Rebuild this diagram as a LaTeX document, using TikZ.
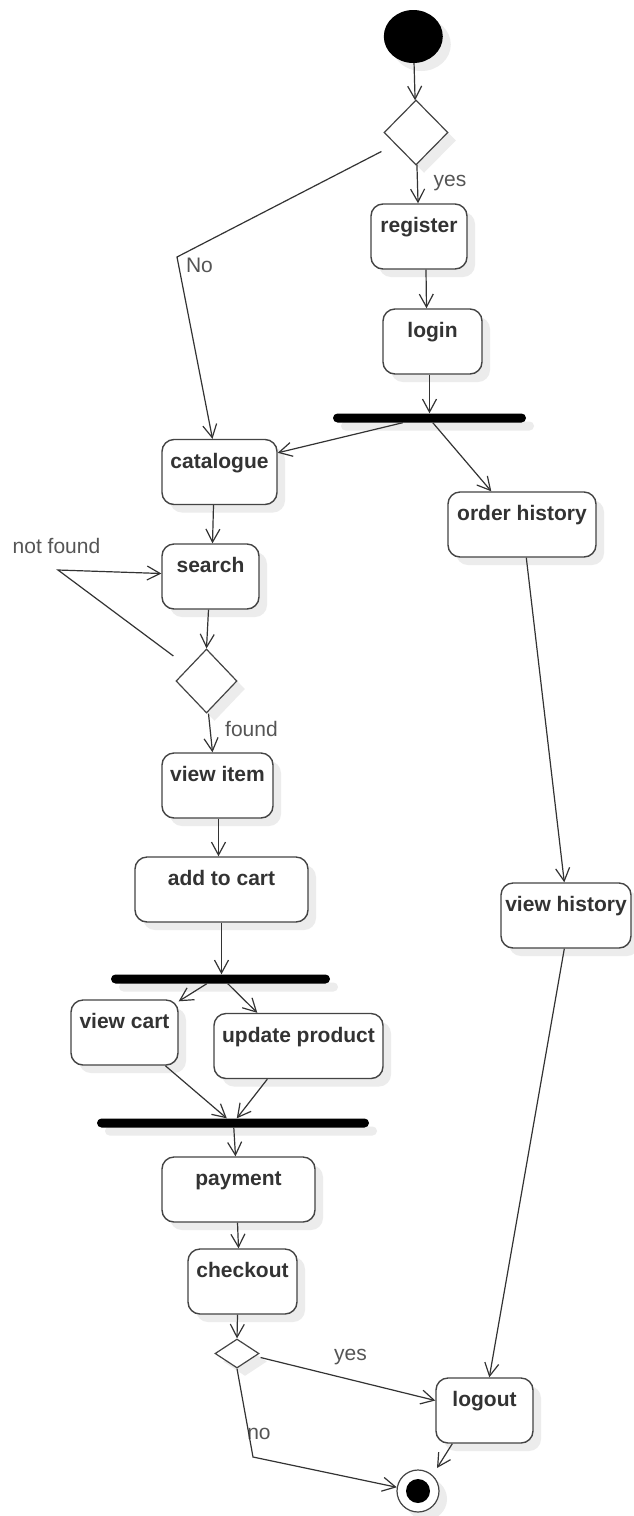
\documentclass[tikz,border=0pt]{standalone}
\usepackage{fontspec}
\setmainfont{Liberation Sans}
\usetikzlibrary{arrows.meta,shapes.geometric,shadows,calc}
\definecolor{ink}{HTML}{333333}
\definecolor{edge}{HTML}{444444}
\definecolor{guardtext}{HTML}{555555}
\definecolor{shade}{HTML}{ECECEC}

\tikzset{
  shadowed/.style={drop shadow={shadow xshift=8pt, shadow yshift=-8pt, fill=shade, opacity=1}},
  action/.style={shadowed, draw=edge, line width=1.4pt, fill=white, rounded corners=12pt,
    minimum width=#1, inner xsep=0pt, inner ysep=0pt, text height=28.5pt, text depth=36.5pt,
    font=\fontsize{21}{25}\selectfont\bfseries, text=ink},
  decision/.style 2 args={shadowed, diamond, draw=edge, line width=1.2pt, fill=white,
    minimum width=#1, minimum height=#2, inner sep=0pt},
  syncbar/.style={shadowed, rectangle, fill=black, rounded corners=4.5pt,
    minimum width=#1, minimum height=9pt, inner sep=0pt},
  startnode/.style={shadowed, ellipse, fill=black, minimum width=59pt, minimum height=53pt, inner sep=0pt},
  endnode/.style={shadowed, circle, draw=edge, line width=1.2pt, fill=white, minimum size=42pt, inner sep=0pt,
    path picture={\fill[black] (path picture bounding box.center) circle (12pt);}},
  flow/.style={draw=ink, line width=1.2pt, -{Straight Barb[length=13pt,width=14pt]}},
  guard/.style={font=\fontsize{21}{25}\selectfont, text=guardtext, inner sep=0pt, anchor=base},
}

\begin{document}
\begin{tikzpicture}[x=1pt, y=-1pt]
  \fill[white] (0,0) rectangle (633,1516);
  \useasboundingbox (0,0) rectangle (633,1516);

  % activities and control nodes
  \node[startnode] (start) at (413.3,36.5) {};
  \node[decision={64pt}{65pt}] (d1) at (416,132.5) {};
  \node[action=96pt] (register) at (419,236.5) {register};
  \node[action=99pt] (login) at (432.5,341.5) {login};
  \node[syncbar=193pt] (bar1) at (429.5,418) {};
  \node[action=115pt] (catalogue) at (219.5,472) {catalogue};
  \node[action=148pt] (orderhist) at (522,524.5) {order history};
  \node[action=97pt] (search) at (210.5,576.5) {search};
  \node[decision={61pt}{64pt}] (d2) at (206.5,681) {};
  \node[action=111pt] (viewitem) at (217.5,785.5) {view item};
  \node[action=173pt] (addcart) at (221.5,889.5) {add to cart};
  \node[syncbar=219pt] (bar2) at (220.5,979) {};
  \node[action=107pt] (viewcart) at (124.5,1032.5) {view cart};
  \node[action=169pt] (updprod) at (298.5,1046) {update product};
  \node[syncbar=272pt] (bar3) at (233,1123) {};
  \node[action=153pt] (payment) at (238.5,1189.5) {payment};
  \node[action=109pt] (checkout) at (242.5,1281.5) {checkout};
  \node[decision={44pt}{29pt}] (d3) at (237,1353.5) {};
  \node[action=97pt] (logout) at (484.5,1410.5) {logout};
  \node[action=130pt] (viewhist) at (566,915.5) {view history};
  \node[endnode] (final) at (418,1491) {};

  % bend points
  \coordinate (nobend) at (177,257);
  \coordinate (nfbend) at (58,570);
  \coordinate (endbend) at (253,1457);

  % guard labels
  \node[guard] (gyes1) at (450,186) {yes};
  \node[guard] (gno1) at (199.5,272) {No};
  \node[guard] (gnotfound) at (56.5,553) {not found};
  \node[guard] (gfound) at (251.5,736) {found};
  \node[guard] (gyes2) at (350.5,1360) {yes};
  \node[guard] (gno2) at (259,1439) {no};

  % control flows
  \draw[flow] (start) -- (d1);
  \draw[flow] (d1) -- (register);
  \draw[flow] ($(register.south)+(7,0)$) -- ($(login.north)+(-6,0)$);
  \draw[flow] ($(login.south)+(-3,0)$) -- (bar1.north);
  \draw[flow] ($(bar1.south west)+(70,0)$) -- ($(catalogue.north east)+(0,14)$);
  \draw[flow] ($(bar1.south west)+(100,0)$) -- ($(orderhist.north west)+(44,0)$);
  \draw[flow] ($(d1.west)+(-2,19)$) -- (nobend) -- ($(catalogue.north)+(-7,0)$);
  \draw[flow] ($(catalogue.south)+(-6,0)$) -- ($(search.north)+(2,0)$);
  \draw[flow] ($(search.south)+(-2,0)$) -- (d2.north);
  \draw[flow] ($(d2.west)+(-2,-25)$) -- (nfbend) -- ($(search.west)+(0,-3)$);
  \draw[flow] ($(d2.south)+(2,0)$) -- ($(viewitem.north)+(-5,0)$);
  \draw[flow] ($(viewitem.south)+(1,0)$) -- ($(addcart.north)+(-3,0)$);
  \draw[flow] (addcart.south) -- (addcart.south |- bar2.north);
  \draw[flow] ($(bar2.south west)+(96,0)$) -- ($(viewcart.north east)+(0,2)$);
  \draw[flow] ($(bar2.south west)+(117,0)$) -- ($(updprod.north west)+(44,0)$);
  \draw[flow] ($(viewcart.south west)+(95,0)$) -- ($(bar3.north west)+(130,0)$);
  \draw[flow] ($(updprod.south west)+(54,0)$) -- ($(bar3.north west)+(140,0)$);
  \draw[flow] ($(bar3.south west)+(137,0)$) -- ($(payment.north)+(-3,0)$);
  \draw[flow] ($(payment.south)+(-1,0)$) -- ($(checkout.north)+(-4,0)$);
  \draw[flow] ($(checkout.south)+(-5,0)$) -- (d3.north);
  \draw[flow] ($(d3.east)+(1,4)$) -- ($(logout.west)+(0,-10)$);
  \draw[flow] (d3.south) -- (endbend) -- (final.170);
  \draw[flow] ($(logout.south west)+(17,0)$) -- ($(final.center)+(19,-23)$);
  \draw[flow] ($(orderhist.south west)+(79,0)$) -- ($(viewhist.north west)+(64,0)$);
  \draw[flow] ($(viewhist.south west)+(64,0)$) -- ($(logout.north west)+(54,0)$);
\end{tikzpicture}
\end{document}
